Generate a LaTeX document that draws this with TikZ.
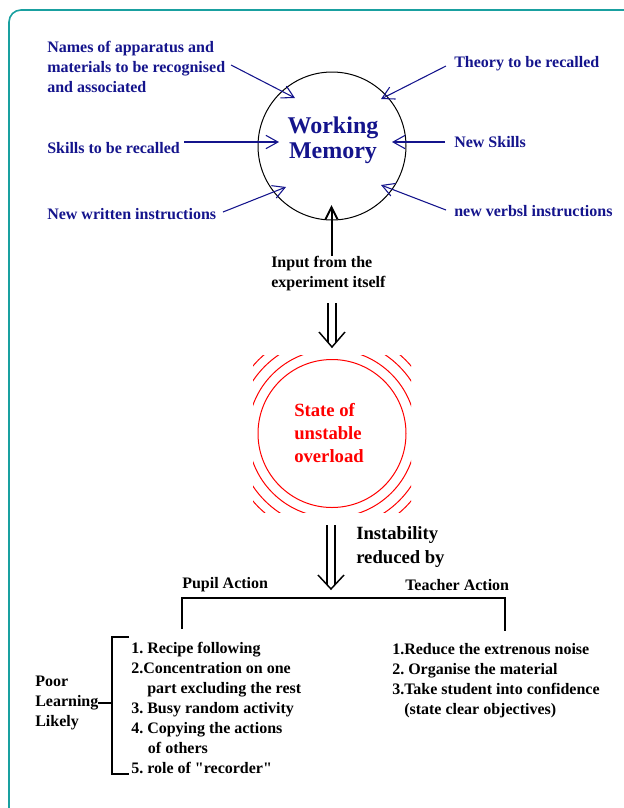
\documentclass[tikz,border=0pt]{standalone}
\usepackage{fontspec}
\setmainfont{Liberation Serif}[Ligatures=TeXOff]
\usetikzlibrary{arrows.meta}
\definecolor{navy}{RGB}{20,20,140}
\definecolor{framecol}{RGB}{25,160,160}
\frenchspacing
\begin{document}
\begin{tikzpicture}[x=0.75pt,y=-0.75pt,
  lbl/.style={font=\bfseries\fontsize{12}{15}\selectfont\frenchspacing, inner sep=0pt, align=left, anchor=west},
  bl/.style={lbl, text=navy},
  barrow/.style={navy, line width=0.8pt, -{Straight Barb[length=9pt,width=10pt]}},
  karrow/.style={black, line width=1.5pt, -{Straight Barb[length=9pt,width=9pt]}},
  dblline/.style={black, line width=1.1pt},
  thin/.style={black, line width=0.8pt}]
\useasboundingbox (0,0) rectangle (624,808);
\clip (0,0) rectangle (624,808);
% frame
\draw[framecol, line width=1.2pt, rounded corners=9pt] (9,10) rectangle (680,860);

% working memory
\node[circle, draw, black, line width=0.75pt, minimum size=111pt, inner sep=0pt] (wm) at (332,146) {};
\node[font=\bfseries\fontsize{18}{19}\selectfont, text=navy, align=center, inner sep=0pt] (wmtext) at (333,140) {Working\\Memory};

% inputs
\node[bl] (names) at (47,67) {Names of apparatus and\\materials to be recognised\\and associated};
\node[bl] (theory) at (454,64) {Theory to be recalled};
\node[bl] (skills) at (47,148) {Skills to be recalled};
\node[bl] (newskills) at (454,142) {New Skills};
\node[bl] (written) at (47,214) {New written instructions};
\node[bl] (verbal) at (454,211) {new verbsl instructions};

\coordinate (a1s) at (231,65);  \coordinate (a1t) at (295,98);
\coordinate (a2s) at (446,66);  \coordinate (a2t) at (381,99);
\coordinate (a3s) at (184,142); \coordinate (a3t) at (279,142);
\coordinate (a4s) at (445,142); \coordinate (a4t) at (392,142);
\coordinate (a5s) at (223,212); \coordinate (a5t) at (286,187);
\coordinate (a6s) at (446,210); \coordinate (a6t) at (381,185);
\draw[barrow] (a1s) -- (a1t);
\draw[barrow] (a2s) -- (a2t);
\draw[barrow] (a3s) -- (a3t);
\draw[barrow] (a4s) -- (a4t);
\draw[barrow] (a5s) -- (a5t);
\draw[barrow] (a6s) -- (a6t);

% input from experiment
\node[lbl] (input) at (271,274) {Input from the\\experiment itself};
\coordinate (inS) at (331.5,256);
\coordinate (inT) at (331.5,205);
\draw[karrow] (inS) -- (inT);

% first double arrow
\draw[dblline] (328,303) -- (328,342.4) (336,303) -- (336,342.4);
\draw[dblline, line join=miter] (319,332) -- (332,347) -- (345,332);

% overload circle
\node[circle, draw=red, line width=0.75pt, minimum size=111pt, inner sep=0pt] (ov) at (332,433.5) {};
\node[font=\bfseries\fontsize{14}{17.6}\selectfont, text=red, align=left, anchor=west, inner sep=0pt] (ovtext) at (294,433) {State of\\unstable\\overload};
\begin{scope}
  \clip (253,355) rectangle (411,512);
  \draw[red, line width=0.75pt] (ov.center) circle [radius=63pt];
  \draw[red, line width=0.75pt] (ov.center) circle [radius=71.25pt];
  \draw[red, line width=0.75pt] (ov.center) circle [radius=78pt];
\end{scope}

% second double arrow
\draw[dblline] (327,525) -- (327,584.7) (335,525) -- (335,584.7);
\draw[dblline, line join=miter] (318,575) -- (331,589) -- (344,575);
\node[font=\bfseries\fontsize{14}{17.6}\selectfont, align=left, anchor=west, inner sep=0pt] (instab) at (356,547) {Instability\\reduced by};

% branches
\node[lbl] (pupil) at (182,585) {Pupil Action};
\node[lbl] (teacher) at (405,585) {Teacher Action};
\coordinate (bl) at (182,629);
\coordinate (br) at (505,631);
\draw[thin] (bl) -- (182,598) -- (505,598) -- (br);

% pupil list
\node[lbl] (plist) at (131,708) {1. Recipe following\\2.Concentration on one\\\hspace*{12pt}part excluding the rest\\3. Busy random activity\\4. Copying the actions\\\hspace*{12.5pt}of others\\5. role of "recorder"};
\coordinate (bt) at (129,637);
\coordinate (bb) at (129,774);
\draw[thin] (bt) -- (112,637) -- (112,774) -- (bb);
\node[lbl] (poor) at (35,703) {Poor\\Learning\\Likely};
\coordinate (bm) at (112,703);
\draw[thin] (97.5,703) -- (bm);

% teacher list
\node[lbl] (tlist) at (392,681) {1.Reduce the extrenous noise\\2. Organise the material\\3.Take student into confidence\\\hspace*{9pt}(state clear objectives)};
\end{tikzpicture}
\end{document}
